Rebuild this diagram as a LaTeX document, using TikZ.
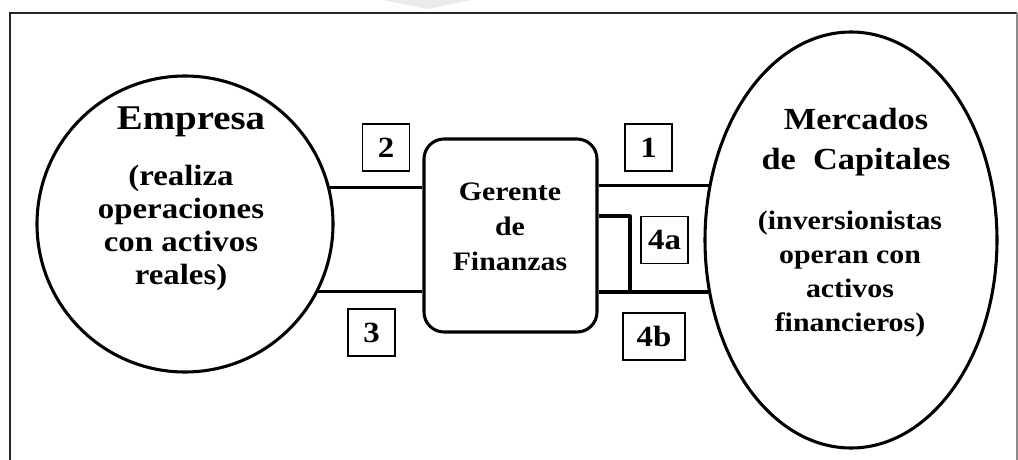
\documentclass[tikz,border=0pt]{standalone}
\usepackage{fontspec}
\setmainfont{Liberation Serif}[FakeStretch=1.12]
\usetikzlibrary{shapes.geometric}
\begin{document}
\begin{tikzpicture}[x=0.75pt,y=-0.75pt,
  thick line/.style={line width=2.3pt, line join=round},
  lbl/.style={draw, line width=1.1pt, font=\fontsize{22}{24}\selectfont\bfseries,
    minimum width=35pt, minimum height=35pt, inner sep=2pt},
  txt/.style={align=center, inner sep=0pt}]
\useasboundingbox (0,0) rectangle (1018,460);
% watermark
\fill[black!8] (383,0) -- (472,0) -- (427,9) -- cycle;
% frame
\draw[line width=1.1pt, black!85] (10,470) -- (10,13) -- (1017,13);
\draw[line width=0.8pt, black!45] (1017,13) -- (1017,470);
% main shapes
\node[circle, draw, thick line, minimum size=222pt, inner sep=0pt] (emp) at (185,224) {};
\node[ellipse, draw, thick line, minimum width=219pt, minimum height=312pt, inner sep=0pt] (mc) at (851,240) {};
\node[rectangle, rounded corners=15pt, draw, thick line, minimum width=129.75pt, minimum height=144.75pt] (gf) at (510.5,235.5) {};
% texts
\node[txt, font=\fontsize{26}{28}\selectfont\bfseries] (empt) at (191,122) {Empresa};
\node[txt, font=\fontsize{22}{24.75}\selectfont\bfseries] (empd) at (181,228) {(realiza\\operaciones\\con activos\\reales)};
\node[txt, font=\fontsize{23}{30}\selectfont\bfseries] (mct) at (856,142) {Mercados\\de~~Capitales};
\node[txt, font=\fontsize{20}{25.5}\selectfont\bfseries] (mcd) at (850,274) {(inversionistas\\operan con\\activos\\financieros)};
\node[txt, font=\fontsize{20}{26.25}\selectfont\bfseries] (gft) at (510,227) {Gerente\\de\\Finanzas};
% connectors
\draw[thick line] (emp.14.5) -- (emp.14.5 -| gf.west);
\draw[thick line] (emp.-27.8) -- (emp.-27.8 -| gf.west);
\draw[thick line] (mc.159.4 -| gf.east) -- (mc.159.4);
\draw[thick line] (mc.200.6 -| gf.east) -- (mc.200.6);
\coordinate (j) at (630,293);
\draw[thick line] (gf.east |- 0,216) -| (j);
% labels
\node[lbl] (l2) at (386,147.5) {2};
\node[lbl] (l1) at (648.5,147.5) {1};
\node[lbl] (l4a) at (664.5,240) {4a};
\node[lbl] (l3) at (371.5,332.5) {3};
\node[lbl, minimum width=46.5pt] (l4b) at (654,336.5) {4b};
\end{tikzpicture}
\end{document}
